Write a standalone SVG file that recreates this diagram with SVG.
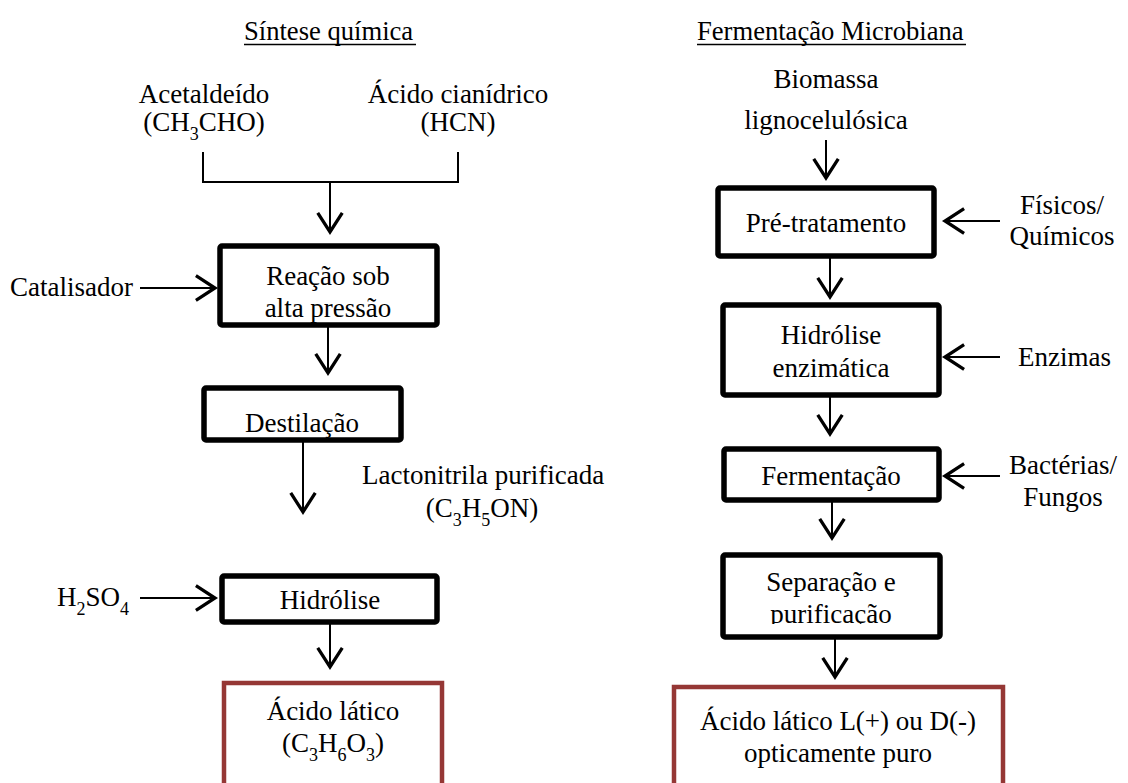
<svg xmlns="http://www.w3.org/2000/svg" width="1128" height="783" viewBox="0 0 1128 783" font-family="'Liberation Serif', 'DejaVu Serif', serif">
<style>
text{font-family:'Liberation Serif','DejaVu Serif',serif;font-size:27px;fill:#000}
.t{font-size:26.6px}
.c{text-anchor:middle}
.sub{font-size:18px}
.box{fill:#fff;stroke:#000;stroke-width:5.5;stroke-linejoin:round}
.red{fill:#fff;stroke:#953735;stroke-width:4.5}
.ln{fill:none;stroke:#000;stroke-width:2}
</style>
<defs>
<marker id="ah" markerUnits="userSpaceOnUse" markerWidth="30" markerHeight="30" viewBox="-16 -11 18 22" refX="0" refY="0" orient="auto">
<path d="M-14,-9 L0,0 L-14,9" fill="none" stroke="#000" stroke-width="2.4" stroke-linejoin="miter"/>
</marker>
<clipPath id="clipSep"><rect x="726" y="558" width="211" height="66"/></clipPath>
</defs>

<g id="titles">
<text class="t" x="244" y="40">Síntese química</text>
<line x1="244" y1="44.5" x2="416" y2="44.5" stroke="#000" stroke-width="1.3"/>
<text class="t" x="697" y="40">Fermentação Microbiana</text>
<line x1="697" y1="44.5" x2="966" y2="44.5" stroke="#000" stroke-width="1.3"/>
</g>

<g id="connectors">
<path class="ln" d="M203,152 V182 H458 V152"/>
<path class="ln" d="M330,182 V232" marker-end="url(#ah)"/>
<path class="ln" d="M140,288 H215" marker-end="url(#ah)"/>
<path class="ln" d="M328,325 V373" marker-end="url(#ah)"/>
<path class="ln" d="M303,440 V512" marker-end="url(#ah)"/>
<path class="ln" d="M140,598 H215" marker-end="url(#ah)"/>
<path class="ln" d="M330,622 V667" marker-end="url(#ah)"/>
<path class="ln" d="M826,140 V178" marker-end="url(#ah)"/>
<path class="ln" d="M1000,221 H945" marker-end="url(#ah)"/>
<path class="ln" d="M830,256 V297" marker-end="url(#ah)"/>
<path class="ln" d="M1000,357 H945" marker-end="url(#ah)"/>
<path class="ln" d="M830,395 V434" marker-end="url(#ah)"/>
<path class="ln" d="M1000,476 H945" marker-end="url(#ah)"/>
<path class="ln" d="M832,500 V538" marker-end="url(#ah)"/>
<path class="ln" d="M835,637 V677" marker-end="url(#ah)"/>
</g>

<g id="acetaldeido">
<text class="c" x="204" y="103">Acetaldeído</text>
<text class="c" x="204" y="131">(CH<tspan class="sub" dy="9">3</tspan><tspan dy="-9">CHO)</tspan></text>
</g>
<g id="acido-cianidrico">
<text class="c" x="458" y="103">Ácido cianídrico</text>
<text class="c" x="458" y="131">(HCN)</text>
</g>
<g id="catalisador">
<text x="10" y="296">Catalisador</text>
</g>
<g id="reacao">
<rect class="box" x="220" y="246" width="217" height="79" rx="2"/>
<text class="c" x="328" y="285">Reação sob</text>
<text class="c" x="328" y="317">alta pressão</text>
</g>
<g id="destilacao">
<rect class="box" x="204" y="388" width="197" height="52" rx="2"/>
<text class="c" x="302" y="432">Destilação</text>
</g>
<g id="lactonitrila">
<text x="362" y="484">Lactonitrila purificada</text>
<text class="c" x="482" y="517">(C<tspan class="sub" dy="9">3</tspan><tspan dy="-9">H</tspan><tspan class="sub" dy="9">5</tspan><tspan dy="-9">ON)</tspan></text>
</g>
<g id="h2so4">
<text x="57" y="606">H<tspan class="sub" dy="9">2</tspan><tspan dy="-9">SO</tspan><tspan class="sub" dy="9">4</tspan></text>
</g>
<g id="hidrolise">
<rect class="box" x="222" y="576" width="215" height="46" rx="2"/>
<text class="c" x="330" y="609">Hidrólise</text>
</g>
<g id="acido-latico">
<rect class="red" x="224" y="683" width="218" height="110"/>
<text class="c" x="333" y="720">Ácido lático</text>
<text class="c" x="333" y="752">(C<tspan class="sub" dy="9">3</tspan><tspan dy="-9">H</tspan><tspan class="sub" dy="9">6</tspan><tspan dy="-9">O</tspan><tspan class="sub" dy="9">3</tspan><tspan dy="-9">)</tspan></text>
</g>

<g id="biomassa">
<text class="c" x="826" y="88">Biomassa</text>
<text class="c" x="826" y="129">lignocelulósica</text>
</g>
<g id="pre-tratamento">
<rect class="box" x="718" y="188" width="216" height="68" rx="2"/>
<text class="c" x="826" y="232">Pré-tratamento</text>
</g>
<g id="fisicos">
<text class="c" x="1062" y="214">Físicos/</text>
<text class="c" x="1062" y="245">Químicos</text>
</g>
<g id="hidrolise-enzimatica">
<rect class="box" x="723" y="305" width="216" height="90" rx="2"/>
<text class="c" x="831" y="344">Hidrólise</text>
<text class="c" x="831" y="377">enzimática</text>
</g>
<g id="enzimas">
<text x="1018" y="366">Enzimas</text>
</g>
<g id="fermentacao">
<rect class="box" x="724" y="449" width="215" height="51" rx="2"/>
<text class="c" x="831" y="485">Fermentação</text>
</g>
<g id="bacterias">
<text class="c" x="1063" y="474">Bactérias/</text>
<text class="c" x="1063" y="506">Fungos</text>
</g>
<g id="separacao">
<rect class="box" x="723" y="555" width="217" height="82" rx="2"/>
<text class="c" x="831" y="591">Separação e</text>
<text class="c" x="831" y="623" clip-path="url(#clipSep)">purificação</text>
</g>
<g id="acido-latico-opt">
<rect class="red" x="674" y="687" width="329" height="110"/>
<text class="c" x="838" y="730">Ácido lático L(+) ou D(-)</text>
<text class="c" x="838" y="762">opticamente puro</text>
</g>
</svg>
